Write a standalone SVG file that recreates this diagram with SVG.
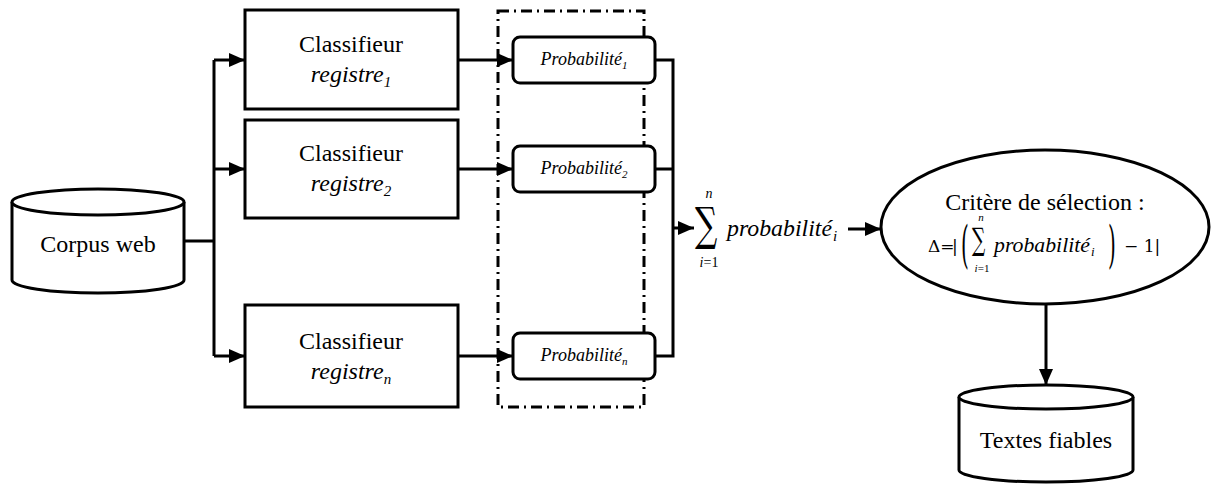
<svg xmlns="http://www.w3.org/2000/svg" width="1211" height="489" viewBox="0 0 1211 489">
<defs>
<marker id="arr" viewBox="0 0 16 14" refX="16" refY="7" markerWidth="16" markerHeight="14" markerUnits="userSpaceOnUse" orient="auto">
<path d="M0,0 L16,7 L0,14 Z" fill="#000"/>
</marker>
</defs>
<style>
.s{fill:none;stroke:#000;stroke-width:3}
.box{fill:#fff;stroke:#000;stroke-width:3}
.t{font-family:'Liberation Serif','Times New Roman',serif;font-size:24px;fill:#000;text-anchor:middle}
.it{font-family:'Liberation Serif','Times New Roman',serif;font-style:italic;fill:#000}
.p{font-family:'Liberation Serif','Times New Roman',serif;font-style:italic;font-size:18px;fill:#000;text-anchor:middle}
.m{font-family:'DejaVu Serif','Liberation Serif',serif;fill:#000}
.ln{fill:none;stroke:#000;stroke-width:3;marker-end:url(#arr)}
</style>
<rect width="1211" height="489" fill="#fff"/>

<g id="connectors">
<path class="s" d="M184,241 H214 M214,60 V356"/>
<path class="ln" d="M214,60 H245"/>
<path class="ln" d="M214,169 H245"/>
<path class="ln" d="M214,356 H245"/>
<path class="ln" d="M458,60 H513"/>
<path class="ln" d="M458,169 H513"/>
<path class="ln" d="M458,356 H513"/>
<path class="s" d="M655,60 H673 V356 H655 M655,169 H673"/>
<path class="ln" d="M673,228 H694"/>
<path class="ln" d="M848,229 H881"/>
<path class="ln" d="M1046,303 V385"/>
</g>

<g id="group-box">
<rect x="498" y="11" width="146" height="396" fill="none" stroke="#000" stroke-width="3" stroke-dasharray="11 5 2 5"/>
</g>

<g id="corpus">
<path class="box" d="M12,202 V280 A86,13 0 0 0 184,280 V202"/>
<ellipse class="box" cx="98" cy="202" rx="86" ry="13"/>
<text class="t" x="98" y="252" font-size="25">Corpus web</text>
</g>

<g id="classifieur1">
<rect class="box" x="245" y="10" width="213" height="99"/>
<text class="t" x="351" y="52">Classifieur</text>
<text class="t it" x="351" y="82">registre<tspan font-size="15" dy="5">1</tspan></text>
</g>
<g id="classifieur2">
<rect class="box" x="245" y="120" width="213" height="98"/>
<text class="t" x="351" y="161">Classifieur</text>
<text class="t it" x="351" y="191">registre<tspan font-size="15" dy="5">2</tspan></text>
</g>
<g id="classifieurn">
<rect class="box" x="245" y="305" width="213" height="102"/>
<text class="t" x="351" y="349">Classifieur</text>
<text class="t it" x="351" y="379">registre<tspan font-size="15" dy="5">n</tspan></text>
</g>

<g id="prob1">
<rect class="box" x="513" y="37" width="142" height="46" rx="7"/>
<text class="p" x="584" y="65">Probabilité<tspan font-size="11" dy="4">1</tspan></text>
</g>
<g id="prob2">
<rect class="box" x="513" y="146" width="142" height="46" rx="7"/>
<text class="p" x="584" y="174">Probabilité<tspan font-size="11" dy="4">2</tspan></text>
</g>
<g id="probn">
<rect class="box" x="513" y="333" width="142" height="46" rx="7"/>
<text class="p" x="584" y="361">Probabilité<tspan font-size="11" dy="4">n</tspan></text>
</g>

<g id="somme">
<text class="m" x="695" y="240" font-size="46" transform="translate(695,0) scale(0.68,1) translate(-695,0)">∑</text>
<text class="it" x="709" y="198" font-size="14" text-anchor="middle">n</text>
<text class="it" x="709" y="267" font-size="14" text-anchor="middle">i<tspan font-style="normal">=1</tspan></text>
<text class="it" x="727" y="236" font-size="23" textLength="105" lengthAdjust="spacingAndGlyphs">probabilité</text>
<text class="it" x="833" y="241" font-size="15">i</text>
</g>

<g id="critere">
<ellipse class="box" cx="1045" cy="227" rx="164" ry="77"/>
<text class="t" x="1045" y="210">Critère de sélection :</text>
<text class="m" x="928" y="252" font-size="17">Δ=</text>
<text class="m" x="952" y="252" font-size="17">|</text>
<text class="m" x="961" y="262" font-size="50" transform="translate(961,0) scale(0.4,1) translate(-961,0)">(</text>
<text class="m" x="972" y="250" font-size="31" transform="translate(972,0) scale(0.6,1) translate(-972,0)">∑</text>
<text class="it" x="981" y="221" font-size="11" text-anchor="middle">n</text>
<text class="it" x="982" y="272" font-size="11" text-anchor="middle">i<tspan font-style="normal">=1</tspan></text>
<text class="it" x="994" y="252" font-size="20" textLength="96" lengthAdjust="spacingAndGlyphs">probabilité</text>
<text class="it" x="1091" y="256" font-size="13">i</text>
<text class="m" x="1108" y="262" font-size="50" transform="translate(1108,0) scale(0.4,1) translate(-1108,0)">)</text>
<text class="m" x="1124" y="252" font-size="17">− 1|</text>
</g>

<g id="textes">
<path class="box" d="M959,397 V470 A87,12 0 0 0 1133,470 V397"/>
<ellipse class="box" cx="1046" cy="397" rx="87" ry="12"/>
<text class="t" x="1046" y="448" font-size="25">Textes fiables</text>
</g>
</svg>
